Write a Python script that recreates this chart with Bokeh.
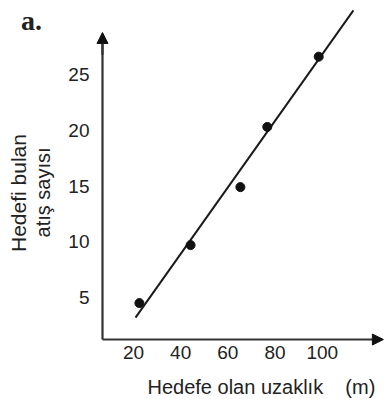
import math
from bokeh.plotting import figure
from bokeh.models import FixedTicker, Label, Arrow, NormalHead
from bokeh.embed import file_html
from bokeh.resources import INLINE

# data
distance = [22.5, 44.2, 65.3, 76.7, 98.5]
hits = [4.5, 9.7, 14.9, 20.3, 26.6]
fit_x = [20.85, 113.2]
fit_y = [3.2, 30.75]
x_ticks = [20, 40, 60, 80, 100]
y_ticks = [5, 10, 15, 20, 25]
x_title = "Hedefe olan uzaklık\u00a0\u00a0\u00a0\u00a0(m)"
y_title_1 = "Hedefi bulan"
y_title_2 = "atış sayısı"
panel = "a."

# axis positions (data units) and visible extents
AX_X = 6.86      # where the y axis stands
AX_Y = 1.23      # where the x axis stands
X_END = 125.9    # x-axis arrow tip
Y_END = 28.77    # y-axis arrow tip

p = figure(width=385, height=399, output_backend="svg", toolbar_location=None,
           x_range=(-36.36, 126.8), y_range=(-4.15, 31.64),
           min_border_left=0, min_border_right=0, min_border_top=0,
           min_border_bottom=0)
p.outline_line_color = None
p.grid.visible = False

font = "Liberation Sans"
ink = "#222222"
axis_col = "#333333"
for ax, ticks in ((p.xaxis[0], x_ticks), (p.yaxis[0], y_ticks)):
    ax.ticker = FixedTicker(ticks=ticks)
    ax.major_tick_line_color = None
    ax.minor_tick_line_color = None
    ax.major_tick_out = 0
    ax.major_tick_in = 0
    ax.axis_line_color = axis_col
    ax.axis_line_width = 2.2
    ax.major_label_text_font = font
    ax.major_label_text_font_size = "19px"
    ax.major_label_text_color = ink
p.xaxis[0].fixed_location = AX_Y
p.yaxis[0].fixed_location = AX_X
p.xaxis[0].major_label_standoff = 6
p.yaxis[0].major_label_standoff = 13
p.xaxis[0].bounds = (AX_X, X_END - 1)
p.yaxis[0].bounds = (AX_Y, Y_END - 1)

# arrow heads
head = dict(size=11, fill_color="#111111", line_color="#111111")
p.add_layout(Arrow(x_start=AX_X, y_start=Y_END - 2, x_end=AX_X, y_end=Y_END,
                   line_color=axis_col, line_width=2.2, end=NormalHead(**head)))
p.add_layout(Arrow(x_start=X_END - 5, y_start=AX_Y, x_end=X_END, y_end=AX_Y,
                   line_color=axis_col, line_width=2.2, end=NormalHead(**head)))

p.line(fit_x, fit_y, line_color="#1a1a1a", line_width=2)
p.scatter(distance, hits, size=9, color="#111111")

p.add_layout(Label(x=-23.2, y=29.84, text=panel, text_font="Liberation Serif",
                   text_font_style="bold", text_font_size="28px", text_color=ink,
                   text_align="center", text_baseline="middle"))
p.add_layout(Label(x=-28.94, y=14.37, text=y_title_1, angle=math.pi / 2,
                   text_font=font, text_font_size="21px", text_color=ink,
                   text_align="center", text_baseline="middle"))
p.add_layout(Label(x=-18.14, y=14.42, text=y_title_2, angle=math.pi / 2,
                   text_font=font, text_font_size="20px", text_color=ink,
                   text_align="center", text_baseline="middle"))
p.add_layout(Label(x=25.93, y=-3.07, text=x_title,
                   text_font=font, text_font_size="20px", text_color=ink,
                   text_align="left", text_baseline="alphabetic"))

open("out.html", "w").write(file_html(p, INLINE))
